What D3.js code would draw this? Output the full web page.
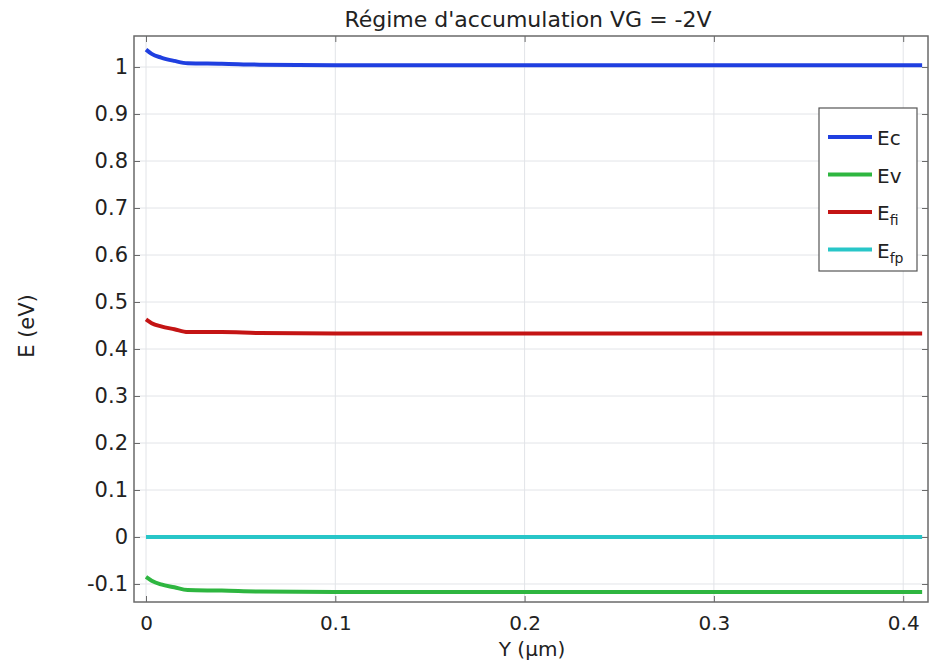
<!DOCTYPE html>
<html>
<head>
<meta charset="utf-8">
<script src="https://cdn.jsdelivr.net/npm/d3@7"></script>
<style>
  body { margin: 0; background: #fff; }
  text { font-family: "DejaVu Sans", sans-serif; fill: #222; }
</style>
</head>
<body>
<div id="holder"></div>
<script>
const w = 929;
const h = 666;

// DATA
const xTicks = [0, 0.1, 0.2, 0.3, 0.4];
const yTicks = [-0.1, 0, 0.1, 0.2, 0.3, 0.4, 0.5, 0.6, 0.7, 0.8, 0.9, 1];

const ecX = [0, 0.003, 0.008, 0.015, 0.022, 0.04, 0.06, 0.1, 0.41];
const ecY = [1.037, 1.028, 1.02, 1.013, 1.008, 1.007, 1.005, 1.004, 1.004];

const evX = [0, 0.003, 0.008, 0.015, 0.022, 0.04, 0.06, 0.1, 0.41];
const evY = [-0.085, -0.093, -0.101, -0.107, -0.113, -0.114, -0.116, -0.117, -0.117];

const efiX = [0, 0.003, 0.008, 0.015, 0.022, 0.04, 0.06, 0.1, 0.41];
const efiY = [0.463, 0.455, 0.448, 0.442, 0.436, 0.436, 0.434, 0.433, 0.433];

const efpX = [0, 0.41];
const efpY = [0, 0];

const series = [
    { name: "Ec", sub: "", color: "#1f3fe0", xs: ecX, ys: ecY },
    { name: "Ev", sub: "", color: "#2eb640", xs: evX, ys: evY },
    { name: "E", sub: "fi", color: "#c41414", xs: efiX, ys: efiY },
    { name: "E", sub: "fp", color: "#28c6c8", xs: efpX, ys: efpY }
];

// CREATE SVG
const svg = d3.select("#holder")
    .append("svg")
    .attr("width", w)
    .attr("height", h);

const mLeft = 134, mRight = 928, mTop = 36, mBottom = 602;

// SCALES
const xScale = d3.scaleLinear()
    .domain([-0.00634, 0.4131])
    .range([mLeft, mRight]);

const yScale = d3.scaleLinear()
    .domain([-0.1383, 1.066])
    .range([mBottom, mTop]);

// GRID
svg.append("g")
    .selectAll("line")
    .data(xTicks)
    .enter()
    .append("line")
    .attr("x1", d => xScale(d)).attr("x2", d => xScale(d))
    .attr("y1", mTop).attr("y2", mBottom)
    .attr("stroke", "#e2e4e8").attr("stroke-width", 1);

svg.append("g")
    .selectAll("line")
    .data(yTicks)
    .enter()
    .append("line")
    .attr("x1", mLeft).attr("x2", mRight)
    .attr("y1", d => yScale(d)).attr("y2", d => yScale(d))
    .attr("stroke", "#e2e4e8").attr("stroke-width", 1);

// FRAME
svg.append("rect")
    .attr("x", mLeft).attr("y", mTop)
    .attr("width", mRight - mLeft).attr("height", mBottom - mTop)
    .attr("fill", "none").attr("stroke", "#6a6a6a").attr("stroke-width", 1.5);

// AXES (ticks pointing inward), plain hyphen for negatives
const fmt = d => String(+d.toFixed(2));

svg.append("g")
    .attr("class", "xax")
    .attr("transform", "translate(0," + mBottom + ")")
    .call(d3.axisBottom(xScale).tickValues(xTicks).tickSize(-6).tickPadding(14).tickFormat(fmt));
svg.append("g")
    .attr("transform", "translate(0," + mTop + ")")
    .call(d3.axisTop(xScale).tickValues(xTicks).tickSize(-6).tickFormat(""));

svg.append("g")
    .attr("transform", "translate(" + mLeft + ",0)")
    .call(d3.axisLeft(yScale).tickValues(yTicks).tickSize(-6).tickPadding(6).tickFormat(fmt));
svg.append("g")
    .attr("transform", "translate(" + mRight + ",0)")
    .call(d3.axisRight(yScale).tickValues(yTicks).tickSize(-6).tickFormat(""));

svg.selectAll(".domain").remove();
svg.selectAll(".tick line").attr("stroke", "#6a6a6a");
svg.selectAll(".tick text").style("font-size", "21px").attr("fill", "#222");
svg.selectAll(".xax .tick text").style("font-size", "20px");

// LINES
const line = d3.line()
    .x(d => xScale(d[0]))
    .y(d => yScale(d[1]))
    .curve(d3.curveMonotoneX);

series.forEach(s => {
    svg.append("path")
        .datum(s.xs.map((x, i) => [x, s.ys[i]]))
        .attr("d", line)
        .attr("fill", "none")
        .attr("stroke", s.color)
        .attr("stroke-width", 4);
});

// TITLES
svg.append("text")
    .attr("x", 528).attr("y", 27)
    .attr("text-anchor", "middle")
    .style("font-size", "22px")
    .text("Régime d'accumulation VG = -2V");

svg.append("text")
    .attr("x", 532).attr("y", 656)
    .attr("text-anchor", "middle")
    .style("font-size", "20px")
    .text("Y (µm)");

svg.append("text")
    .attr("transform", "translate(34,326) rotate(-90)")
    .attr("text-anchor", "middle")
    .style("font-size", "21px")
    .text("E (eV)");

// LEGEND
const legend = svg.append("g");
legend.append("rect")
    .attr("x", 819).attr("y", 108)
    .attr("width", 98).attr("height", 163)
    .attr("fill", "#fff").attr("stroke", "#555").attr("stroke-width", 1.2);

series.forEach((s, i) => {
    const ly = 137 + i * 37.5;
    legend.append("line")
        .attr("x1", 828).attr("x2", 872)
        .attr("y1", ly).attr("y2", ly)
        .attr("stroke", s.color).attr("stroke-width", 4);
    const t = legend.append("text")
        .attr("x", 877).attr("y", ly + 8)
        .style("font-size", "20px");
    t.append("tspan").text(s.name);
    if (s.sub) {
        t.append("tspan").attr("dy", 5).style("font-size", "14px").text(s.sub);
    }
});
</script>
</body>
</html>
